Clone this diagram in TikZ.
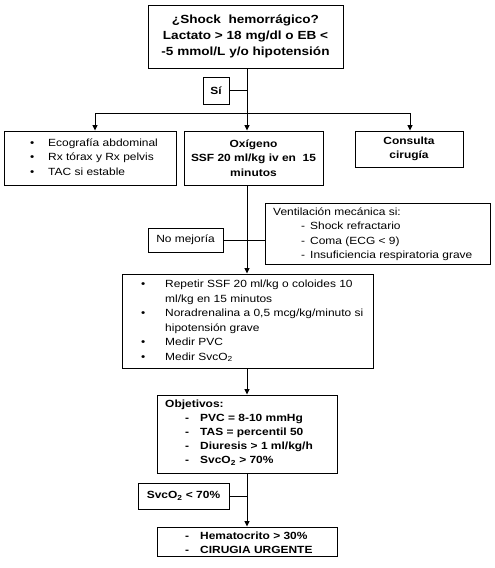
\documentclass[tikz,border=0pt]{standalone}
\usepackage{fontspec}
\setmainfont{Liberation Sans}[FakeStretch=1.15]
\usetikzlibrary{arrows.meta}
\newcommand\mybul[1]{\makebox[#1][l]{•}}
\newcommand\mydash[2]{\hspace*{#1}\makebox[#2][l]{-}}
\begin{document}
\begin{tikzpicture}[x=1pt,y=-1pt,
  box/.style={draw, line width=0.9pt, inner sep=0pt, align=center,
    font=\fontsize{10.4}{14.5}\selectfont},
  bbox/.style={box, font=\fontsize{10.4}{14.5}\selectfont\bfseries},
  txt/.style={inner sep=0pt, align=left, anchor=west,
    font=\fontsize{10.4}{14.5}\selectfont},
  ln/.style={line width=0.9pt},
  arr/.style={ln, -{Triangle[width=5pt,length=5.5pt]}},
]
\useasboundingbox (0,0) rectangle (495,568);

% boxes
\node[bbox, minimum width=195pt, minimum height=63pt,
  font=\fontsize{11.8}{16}\selectfont\bfseries] (top) at (245.5,36.5)
  {¿Shock\ \ hemorrágico?\\Lactato > 18 mg/dl o EB <\\-5 mmol/L y/o hipotensión};
\node[bbox, minimum width=26pt, minimum height=27pt] (si) at (216,90.5) {Sí};

\node[box, minimum width=172pt, minimum height=54pt] (left) at (90,158) {};
\node[txt] (leftT) at (30,157)
  {\mybul{18pt}Ecografía abdominal\\\mybul{18pt}Rx tórax y Rx pelvis\\\mybul{18pt}TAC si estable};
\node[bbox, minimum width=139pt, minimum height=54pt] (mid) at (253.5,158)
  {Oxígeno\\SSF 20 ml/kg iv en\ \ 15\\minutos};
\node[bbox, minimum width=108pt, minimum height=36pt] (right) at (409,149)
  {Consulta\\cirugía};

\node[box, minimum width=75pt, minimum height=24pt] (nomej) at (185.5,240) {No mejoría};
\node[box, minimum width=225pt, minimum height=61pt] (vent) at (377.5,233.5) {};
\node[txt] (ventT) at (273,234)
  {Ventilación mecánica si:\\
   \mydash{28pt}{9pt}Shock refractario\\
   \mydash{28pt}{9pt}Coma (ECG < 9)\\
   \mydash{28pt}{9pt}Insuficiencia respiratoria grave};

\node[box, minimum width=251pt, minimum height=94pt] (rep) at (247.5,321) {};
\node[txt] (repT) at (141,321)
  {\mybul{24pt}Repetir SSF 20 ml/kg o coloides 10\\
   \hspace*{24pt}ml/kg en 15 minutos\\
   \mybul{24pt}Noradrenalina a 0,5 mcg/kg/minuto si\\
   \hspace*{24pt}hipotensión grave\\
   \mybul{24pt}Medir PVC\\
   \mybul{24pt}Medir SvcO\textsubscript{2}};

\node[box, minimum width=180pt, minimum height=78pt] (obj) at (247,434) {};
\node[txt, font=\fontsize{10.4}{14}\selectfont\bfseries] (objT) at (165,433)
  {Objetivos:\\
   \mydash{20pt}{15pt}PVC = 8-10 mmHg\\
   \mydash{20pt}{15pt}TAS = percentil 50\\
   \mydash{20pt}{15pt}Diuresis > 1 ml/kg/h\\
   \mydash{20pt}{15pt}SvcO\textsubscript{2} > 70\%};

\node[bbox, minimum width=91pt, minimum height=26pt] (svc) at (183.5,496)
  {SvcO\textsubscript{2} < 70\%};

\node[box, minimum width=180pt, minimum height=29pt] (fin) at (247,541.5) {};
\node[txt, font=\fontsize{10.4}{13.5}\selectfont\bfseries] (finT) at (165,543)
  {\mydash{20pt}{15pt}Hematocrito > 30\%\\
   \mydash{20pt}{15pt}CIRUGIA URGENTE};

% connectors
\coordinate (j1) at (247,113);
\coordinate (bl) at (95,113);
\coordinate (br) at (410,113);
\draw[ln] (top.south -| j1) -- (j1);
\draw[ln] (si.east) -- (si.east -| j1);
\draw[ln] (bl) -- (br);
\draw[arr] (bl) -- (left.north -| bl);
\draw[arr] (j1) -- (mid.north -| j1);
\draw[arr] (br) -- (right.north -| br);
\draw[arr] (mid.south -| j1) -- (rep.north -| j1);
\draw[ln] (nomej.east) -- (nomej.east -| vent.west);
\draw[arr] (rep.south -| j1) -- (obj.north -| j1);
\draw[arr] (obj.south -| j1) -- (fin.north -| j1);
\draw[ln] (svc.east) -- (svc.east -| j1);
\end{tikzpicture}
\end{document}
